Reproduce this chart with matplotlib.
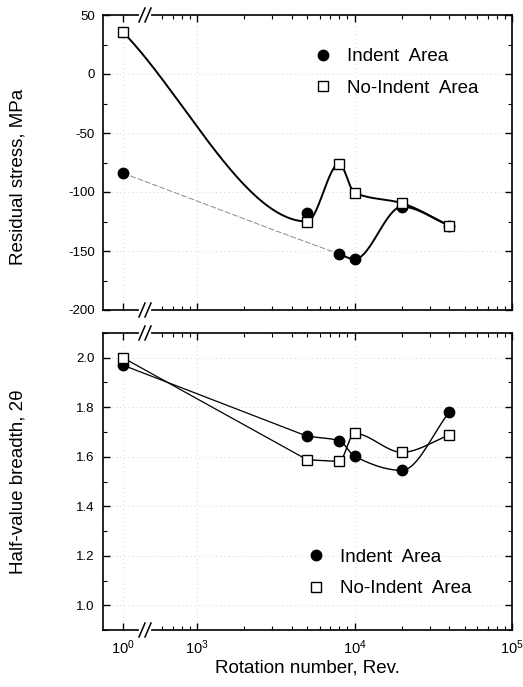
import numpy as np
import matplotlib
matplotlib.use('Agg')
import matplotlib.pyplot as plt
from matplotlib.lines import Line2D
from matplotlib.ticker import FixedLocator, NullFormatter

plt.rcParams['font.family'] = ['Liberation Sans', 'DejaVu Sans']
plt.rcParams['axes.unicode_minus'] = False
plt.rcParams['mathtext.fontset'] = 'custom'
plt.rcParams['mathtext.rm'] = 'Liberation Sans'
plt.rcParams['mathtext.it'] = 'Liberation Sans:italic'

# data
rotation = [1, 5000, 8000, 10000, 20000, 40000]
stress_indent = [-84, -117.5, -152.5, -157, -112.5, -128.5]
stress_noindent = [35.5, -125, -76, -100.5, -109.5, -128.5]
breadth_indent = [1.97, 1.683, 1.665, 1.602, 1.545, 1.78]
breadth_noindent = [2.0, 1.588, 1.582, 1.694, 1.618, 1.688]

xtick_vals = [1, 1e3, 1e4, 1e5]
xtick_labels = [r'$10^0$', r'$10^3$', r'$10^4$', r'$10^5$']
x_minor = [600, 700, 800, 900] + [k * 1e3 for k in range(2, 10)] + [k * 1e4 for k in range(2, 10)]

# broken log axis: 10^0 is squeezed in left of the break
P1 = 2.53
LB = np.log10(450.0)
K = (LB - P1) / LB


def fwd(x):
    x = np.asarray(x, float)
    lx = np.log10(np.clip(x, 1e-30, None))
    return np.where(lx >= LB, lx, P1 + K * lx)


def inv(p):
    p = np.asarray(p, float)
    with np.errstate(over='ignore'):
        return np.where(p >= LB, 10.0 ** p, 10.0 ** ((p - P1) / K))


def smooth(xs, ys, n=300):
    # monotone cubic (pchip-like) through the points, in axis position space
    px = fwd(xs)
    y = np.asarray(ys, float)
    h = np.diff(px)
    d = np.diff(y) / h
    m = np.empty_like(y)
    m[0], m[-1] = d[0], d[-1]
    for i in range(1, len(y) - 1):
        if d[i - 1] * d[i] <= 0:
            m[i] = 0.0
        else:
            w1 = 2 * h[i] + h[i - 1]
            w2 = h[i] + 2 * h[i - 1]
            m[i] = (w1 + w2) / (w1 / d[i - 1] + w2 / d[i])
    u = np.linspace(px[0], px[-1], n)
    idx = np.clip(np.searchsorted(px, u) - 1, 0, len(h) - 1)
    t = (u - px[idx]) / h[idx]
    yy = ((2 * t**3 - 3 * t**2 + 1) * y[idx] + (t**3 - 2 * t**2 + t) * h[idx] * m[idx]
          + (-2 * t**3 + 3 * t**2) * y[idx + 1] + (t**3 - t**2) * h[idx] * m[idx + 1])
    return u, yy


def style_axis(ax, ylim, yticks, yminor, w_px, h_px):
    ax.set_xscale('function', functions=(fwd, inv))
    ax.set_xlim(inv(2.403), 1e5)
    ax.xaxis.set_major_locator(FixedLocator(xtick_vals))
    ax.xaxis.set_minor_locator(FixedLocator(x_minor))
    ax.xaxis.set_minor_formatter(NullFormatter())
    ax.set_ylim(*ylim)
    ax.set_yticks(yticks)
    ax.yaxis.set_minor_locator(FixedLocator(yminor))
    ax.tick_params(which='both', direction='in', top=True, right=True)
    ax.tick_params(which='major', length=5, width=1)
    ax.tick_params(which='minor', length=3, width=0.8)
    ax.tick_params(axis='y', pad=6, labelsize=9.5)
    ax.tick_params(axis='x', pad=6, labelsize=10.5)
    for s in ax.spines.values():
        s.set_linewidth(1.2)
    ax.grid(True, which='major', color='#c4c4c4', ls=(0, (1, 4)), lw=0.6)
    # "//" break marks on top and bottom spines
    xb = (145 - 103) / w_px
    dx, dy = 3.0 / w_px, 7.0 / h_px
    for yb in (0, 1):
        ax.plot([xb - 4 / w_px, xb + 4 / w_px], [yb, yb], transform=ax.transAxes,
                color='white', lw=3, clip_on=False, zorder=5)
        for off in (-3 / w_px, 3 / w_px):
            ax.plot([xb + off - dx, xb + off + dx], [yb - dy, yb + dy], transform=ax.transAxes,
                    color='black', lw=1.1, clip_on=False, zorder=6)


fig = plt.figure(figsize=(5.23, 6.87), dpi=100)
ax1 = fig.add_axes([103 / 523, 1 - 310 / 687, 409 / 523, 295 / 687])
ax2 = fig.add_axes([103 / 523, 1 - 630 / 687, 409 / 523, 297 / 687])

# ---- top panel: residual stress
style_axis(ax1, (-200, 50), np.arange(-200, 51, 50), np.arange(-175, 50, 50), 409, 295)
ax1.tick_params(labelbottom=False)

u, yy = smooth(rotation, stress_noindent)
ax1.plot(inv(u), yy, color='black', lw=1.4, zorder=2)

knots = [0, 2, 3, 4, 5]
u, yy = smooth([rotation[i] for i in knots], [stress_indent[i] for i in knots])
split = fwd(8000)
ax1.plot(inv(u[u <= split]), yy[u <= split], color='#8a8a8a', lw=0.7, ls=(0, (6, 2)), zorder=2)
ax1.plot(inv(u[u >= split]), yy[u >= split], color='black', lw=1.4, zorder=2)

ax1.plot(rotation, stress_indent, 'o', ms=7.5, color='black', ls='none', zorder=3)
ax1.plot(rotation, stress_noindent, 's', ms=6.5, mfc='white', mec='black', mew=1,
         ls='none', zorder=4)
ax1.set_ylabel('Residual stress, MPa', fontsize=13.5)
ax1.yaxis.set_label_coords(-0.186, 0.45)

# ---- bottom panel: half-value breadth
style_axis(ax2, (0.9, 2.1), np.arange(1.0, 2.01, 0.2), np.arange(0.9, 2.11, 0.2), 409, 297)
ax2.set_xticklabels(xtick_labels)

for ys in (breadth_indent, breadth_noindent):
    ax2.plot(rotation[:2], ys[:2], color='black', lw=0.9, zorder=2)
    u, yy = smooth(rotation[1:], ys[1:])
    ax2.plot(inv(u), yy, color='black', lw=1.0, zorder=2)

ax2.plot(rotation, breadth_indent, 'o', ms=7.5, color='black', ls='none', zorder=3)
ax2.plot(rotation, breadth_noindent, 's', ms=6.5, mfc='white', mec='black', mew=1,
         ls='none', zorder=4)
ax2.set_ylabel('Half-value breadth, 2θ', fontsize=13.5)
ax2.yaxis.set_label_coords(-0.186, 0.5)
ax2.set_xlabel('Rotation number, Rev.', fontsize=13.5)
ax2.xaxis.set_label_coords(0.5, -0.1)

# legends
handles = [Line2D([], [], marker='o', ms=7.5, color='black', ls='none'),
           Line2D([], [], marker='s', ms=6.5, mfc='white', mec='black', mew=1, ls='none')]
labels = ['Indent  Area', 'No-Indent  Area']
for ax, anchor in ((ax1, (0.515, 0.887)), (ax2, (0.498, 0.273))):
    ax.legend(handles, labels, loc='upper left', bbox_to_anchor=anchor, frameon=False,
              fontsize=13.5, handlelength=1.0, handletextpad=0.8, labelspacing=0.75,
              borderpad=0, borderaxespad=0)

fig.savefig('out.png', dpi=100)
